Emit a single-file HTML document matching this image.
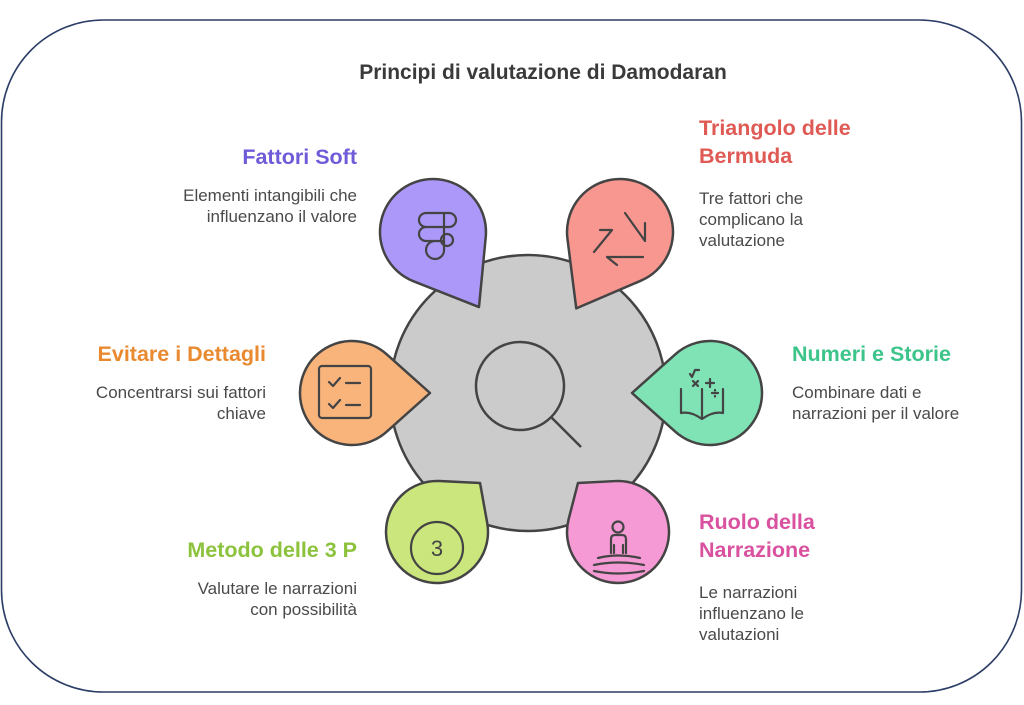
<!DOCTYPE html>
<html><head><meta charset="utf-8"><style>
html,body{margin:0;padding:0;background:#fff;}
svg{display:block;font-family:"Liberation Sans",sans-serif;}
.h{font-weight:bold;font-size:21.5px;}
.d{font-size:17px;fill:#4a4a4a;}
</style></head><body>
<svg width="1024" height="705" viewBox="0 0 1024 705" xmlns="http://www.w3.org/2000/svg">
<rect x="1.5" y="20" width="1020" height="672" rx="102" ry="102" fill="#fff" stroke="#2c3e66" stroke-width="1.6"/>
<text x="543" y="79" text-anchor="middle" font-weight="bold" font-size="21" fill="#3a3a3a">Principi di valutazione di Damodaran</text>

<circle cx="528" cy="393" r="138" fill="#cbcbcb" stroke="#444" stroke-width="2.5"/>
<circle cx="520" cy="386" r="44" fill="none" stroke="#444" stroke-width="2.5"/>
<line x1="551" y1="417" x2="581" y2="447" stroke="#444" stroke-width="2.5"/>

<g stroke="#444" stroke-width="2.5" stroke-linejoin="round">
<path fill="#ab98f8" transform="translate(433,232) rotate(58.5)" d="M31.9 -42.3 L88 0 L31.9 42.3 A53 53 0 1 1 31.9 -42.3 Z"/>
<path fill="#f89790" transform="translate(620,232) rotate(119.8)" d="M31.9 -42.3 L88 0 L31.9 42.3 A53 53 0 1 1 31.9 -42.3 Z"/>
<path fill="#f9b47b" transform="translate(352,393)" d="M34.7 -38.7 L78 0 L34.7 38.7 A52 52 0 1 1 34.7 -38.7 Z"/>
<path fill="#7fe3b5" transform="translate(710,393) rotate(180)" d="M34.7 -38.7 L78 0 L34.7 38.7 A52 52 0 1 1 34.7 -38.7 Z"/>
<path fill="#cbe67c" transform="translate(437,532) rotate(-48.7)" d="M39.9 -31.8 L65.2 0 L39.9 31.8 A51 51 0 1 1 39.9 -31.8 Z"/>
<path fill="#f59ad5" transform="translate(618,532) rotate(-129.2)" d="M41.1 -30.2 L63.3 0 L41.1 30.2 A51 51 0 1 1 41.1 -30.2 Z"/>
</g>

<g fill="none" stroke="#444" stroke-width="2.2" stroke-linecap="round" stroke-linejoin="round">
<path d="M426 213 h18 v14 h-18 a7 7 0 0 1 0 -14 z M444 213 h5 a7 7 0 0 1 0 14 h-5 z M426 227 h18 v14 h-18 a7 7 0 0 1 0 -14 z M444 241 v8 a9 9 0 1 1 -9 -8 z"/>
<circle cx="447" cy="240" r="6"/>
<path d="M594 252 l18 -22 M600 230 h12 M625 213 l20 28 M645 241 v-18 M607 257 h36 M607 257 l10 8"/>
<rect x="319" y="366" width="52" height="52" rx="3"/>
<path d="M329 382 l4 4 l7 -8 M346 383 h14 M329 404 l4 4 l7 -8 M346 405 h14"/>
<path d="M681 389 v24 q10 -2 21 6 q11 -8 21 -6 v-24 M702 389 v30 M690 374 l2 3 l3 -7 h4 M693 381 l5 5 M698 381 l-5 5 M710 379 v8 M706 383 h8 M712 393 h6 M715 390 v0.5 M715 396 v0.5"/>
<circle cx="437" cy="548" r="26"/>
<circle cx="618" cy="527" r="5.5"/>
<path d="M611 553 v-14 q0 -4 4 -4 h7 q4 0 4 4 v14 M614 545 v8 M623 545 v8 M598 558 q20 -5 42 0 M594 565 q24 -5 50 0 M594 571 q24 5 50 0"/>
</g>
<text x="437" y="556" text-anchor="middle" font-size="22" fill="#444">3</text>

<text class="h" x="357" y="164" text-anchor="end" fill="#6f5bd8">Fattori Soft</text>
<text class="d" x="357" y="201" text-anchor="end">Elementi intangibili che</text>
<text class="d" x="357" y="222" text-anchor="end">influenzano il valore</text>

<text class="h" x="699" y="135" fill="#e05a55">Triangolo delle</text>
<text class="h" x="699" y="163" fill="#e05a55">Bermuda</text>
<text class="d" x="699" y="204">Tre fattori che</text>
<text class="d" x="699" y="225">complicano la</text>
<text class="d" x="699" y="246">valutazione</text>

<text class="h" x="266" y="361" text-anchor="end" fill="#e98a30">Evitare i Dettagli</text>
<text class="d" x="266" y="398" text-anchor="end">Concentrarsi sui fattori</text>
<text class="d" x="266" y="419" text-anchor="end">chiave</text>

<text class="h" x="792" y="361" fill="#3cc48a">Numeri e Storie</text>
<text class="d" x="792" y="398">Combinare dati e</text>
<text class="d" x="792" y="419">narrazioni per il valore</text>

<text class="h" x="357" y="557" text-anchor="end" fill="#8cc23c">Metodo delle 3 P</text>
<text class="d" x="357" y="594" text-anchor="end">Valutare le narrazioni</text>
<text class="d" x="357" y="615" text-anchor="end">con possibilità</text>

<text class="h" x="699" y="529" fill="#d9519f">Ruolo della</text>
<text class="h" x="699" y="557" fill="#d9519f">Narrazione</text>
<text class="d" x="699" y="598">Le narrazioni</text>
<text class="d" x="699" y="619">influenzano le</text>
<text class="d" x="699" y="640">valutazioni</text>
</svg>
</body></html>
